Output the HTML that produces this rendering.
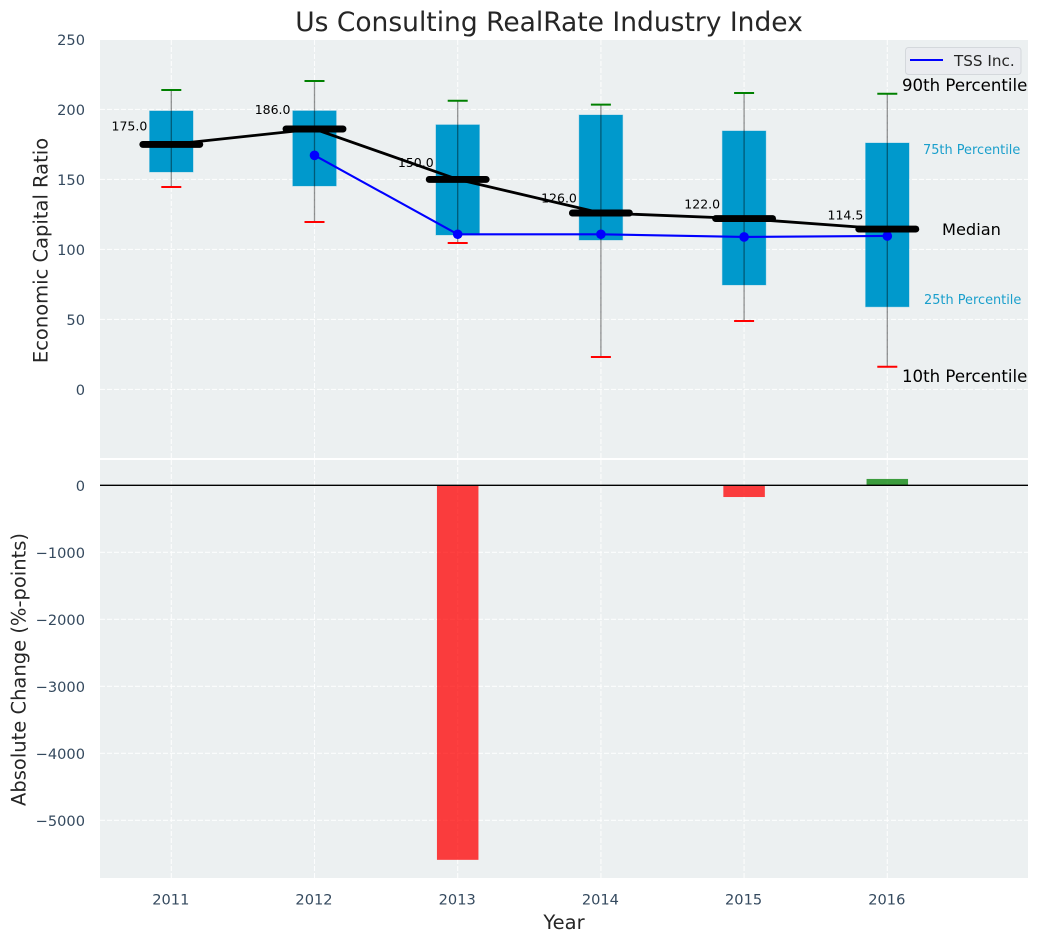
<!DOCTYPE html>
<html>
<head>
<meta charset="utf-8">
<title>Us Consulting RealRate Industry Index</title>
<style>
html,body{margin:0;padding:0;background:#fff;}
svg{display:block;}
text{font-family:"DejaVu Sans","Liberation Sans",sans-serif;}
</style>
</head>
<body>
<svg id="chart" xmlns="http://www.w3.org/2000/svg" width="1039" height="942" viewBox="0 0 1039 942">
  <g id="backgrounds"></g>
  <g id="grid"></g>
  <g id="marks"></g>
  <g id="labels"></g>
</svg>
<script>
const years = [2011, 2012, 2013, 2014, 2015, 2016];
const p90 = [213.9, 220.3, 206.2, 203.4, 211.7, 211.2];
const p75 = [198.9, 199, 189, 196, 184.6, 176];
const medians = [175, 186, 150, 126, 122, 114.5];
const p25 = [155.3, 145.3, 110.3, 106.7, 74.6, 59];
const p10 = [144.6, 119.6, 104.6, 23.1, 48.9, 16.2];
const tssYears = [2012, 2013, 2014, 2015, 2016];
const tssValues = [167.2, 110.8, 110.8, 108.9, 109.6];
const changes = [0, 0, -5590, 0, -175, 95];
const topTicks = [0, 50, 100, 150, 200, 250];
const bottomTicks = [0, -1000, -2000, -3000, -4000, -5000];

const NS = 'http://www.w3.org/2000/svg';
const PLOT_L = 100, PLOT_R = 1028;
const TOP_T = 40, TOP_B = 458, BOT_T = 460, BOT_B = 878;
const TICK_FONT = 14.6;
const AXIS_FONT = 19.5;
const xPos = v => 171.3 + 143.2 * (v - 2011);
const yTop = v => 389.4 - 1.4 * v;
const yBot = v => 485.3 - 0.067 * v;

function mk(parent, tag, attrs, txt) {
  const el = document.createElementNS(NS, tag);
  for (const k in attrs) el.setAttribute(k, attrs[k]);
  if (txt !== undefined) el.textContent = txt;
  parent.appendChild(el);
  return el;
}
const gBg = document.getElementById('backgrounds');
const gGrid = document.getElementById('grid');
const gMarks = document.getElementById('marks');
const gLabels = document.getElementById('labels');

/* panels */
let e = mk(gBg, 'rect', {x: PLOT_L, y: TOP_T, width: PLOT_R - PLOT_L, height: TOP_B - TOP_T, fill: '#ecf0f1'});


e = mk(gBg, 'rect', {x: PLOT_L, y: BOT_T, width: PLOT_R - PLOT_L, height: BOT_B - BOT_T, fill: '#ecf0f1'});



/* grid and ticks */
const gridStyle = {stroke: '#ffffff', 'stroke-width': 1.1, 'stroke-dasharray': '5 2', 'stroke-opacity': 0.85, fill: 'none'};
topTicks.forEach(t => {
  const y = yTop(t);
  if (y >= TOP_T) {
    const l = mk(gGrid, 'line', Object.assign({x1: PLOT_L, x2: PLOT_R, y1: y, y2: y}, gridStyle));
    
    
  }
  const lb = mk(gLabels, 'text', {x: 85, y: y + 5.6, 'text-anchor': 'end', 'font-size': TICK_FONT, fill: '#34495e'}, String(t));
  
  
});
bottomTicks.forEach(t => {
  const y = yBot(t);
  const l = mk(gGrid, 'line', Object.assign({x1: PLOT_L, x2: PLOT_R, y1: y, y2: y}, gridStyle));
  
  
  const lb = mk(gLabels, 'text', {x: 85, y: y + 5.6, 'text-anchor': 'end', 'font-size': TICK_FONT, fill: '#34495e'}, String(t).replace('-', '\u2212'));
  
  
});
years.forEach(yr => {
  const x = xPos(yr);
  let l = mk(gGrid, 'line', Object.assign({x1: x, x2: x, y1: TOP_T, y2: TOP_B}, gridStyle));
  
  
  l = mk(gGrid, 'line', Object.assign({x1: x, x2: x, y1: BOT_T, y2: BOT_B}, gridStyle));
  
  
  const lb = mk(gLabels, 'text', {x: x - 0.5, y: 904.5, 'text-anchor': 'middle', 'font-size': TICK_FONT, fill: '#34495e'}, String(yr));
  
  
});

/* boxes */
const BOX_W = 43.5, CAP_W = 20, MED_W = 57;
years.forEach((yr, i) => {
  const x = xPos(yr);
  const top = yTop(p75[i]), bot = yTop(p25[i]);
  const box = mk(gMarks, 'rect', {x: x - BOX_W / 2, y: top, width: BOX_W, height: bot - top, fill: '#0099cc', stroke: '#0099cc', 'stroke-opacity': 0.3, 'stroke-width': 1});
  
  
  const wh = mk(gMarks, 'line', {x1: x, x2: x, y1: yTop(p90[i]), y2: yTop(p10[i]), stroke: '#000', 'stroke-opacity': 0.42, 'stroke-width': 1.3});
  
  
  const hi = mk(gMarks, 'line', {x1: x - CAP_W / 2, x2: x + CAP_W / 2, y1: yTop(p90[i]), y2: yTop(p90[i]), stroke: '#008000', 'stroke-width': 2});
  
  
  const lo = mk(gMarks, 'line', {x1: x - CAP_W / 2, x2: x + CAP_W / 2, y1: yTop(p10[i]), y2: yTop(p10[i]), stroke: '#ff0000', 'stroke-width': 2});
  
  
});

/* TSS series */
const tssLine = mk(gMarks, 'polyline', {points: tssYears.map((yr, i) => xPos(yr) + ',' + yTop(tssValues[i])).join(' '), fill: 'none', stroke: '#0000ff', 'stroke-width': 2.1});


tssYears.forEach((yr, i) => {
  const d = mk(gMarks, 'circle', {cx: xPos(yr), cy: yTop(tssValues[i]), r: 4.8, fill: '#0000ff'});
  
  
});

/* median series */
const medLine = mk(gMarks, 'polyline', {points: years.map((yr, i) => xPos(yr) + ',' + yTop(medians[i])).join(' '), fill: 'none', stroke: '#000', 'stroke-width': 2.8});


years.forEach((yr, i) => {
  const x = xPos(yr), y = yTop(medians[i]);
  const m = mk(gMarks, 'line', {x1: x - MED_W / 2, x2: x + MED_W / 2, y1: y, y2: y, stroke: '#000', 'stroke-width': 6.9, 'stroke-linecap': 'round'});
  
  
  const t = mk(gLabels, 'text', {x: x - 24, y: yTop(medians[i] * 1.05) - 1.75, 'text-anchor': 'end', 'font-size': 12.5, fill: '#000'}, medians[i].toFixed(1));
  
  
});

/* change bars */
const BAR_W = 41.5;
years.forEach((yr, i) => {
  const v = changes[i];
  if (v === 0) return;
  const y0 = yBot(0), y1 = yBot(v);
  const b = mk(gMarks, 'rect', {x: xPos(yr) - BAR_W / 2, y: Math.min(y0, y1), width: BAR_W, height: Math.abs(y1 - y0), fill: v < 0 ? '#ff0000' : '#008000', 'fill-opacity': 0.75});
  
  
});
const zero = mk(gMarks, 'line', {x1: PLOT_L, x2: PLOT_R, y1: yBot(0), y2: yBot(0), stroke: '#000', 'stroke-width': 1.3});



/* titles */
let tt = mk(gLabels, 'text', {x: 549, y: 31, 'text-anchor': 'middle', 'font-size': 26.5, fill: '#262626'}, 'Us Consulting RealRate Industry Index');


tt = mk(gLabels, 'text', {x: 564, y: 929, 'text-anchor': 'middle', 'font-size': AXIS_FONT, fill: '#262626'}, 'Year');


tt = mk(gLabels, 'text', {transform: 'translate(47.5,250.5) rotate(-90)', 'text-anchor': 'middle', 'font-size': AXIS_FONT, fill: '#262626'}, 'Economic Capital Ratio');


tt = mk(gLabels, 'text', {transform: 'translate(25.5,669.5) rotate(-90)', 'text-anchor': 'middle', 'font-size': AXIS_FONT, fill: '#262626'}, 'Absolute Change (%-points)');



/* percentile annotations */
tt = mk(gLabels, 'text', {x: 902, y: 91, 'font-size': 16.6, fill: '#000'}, '90th Percentile');


tt = mk(gLabels, 'text', {x: 923, y: 154, 'font-size': 12.9, fill: '#1a9fcc'}, '75th Percentile');


tt = mk(gLabels, 'text', {x: 942, y: 235, 'font-size': 16.2, fill: '#000'}, 'Median');


tt = mk(gLabels, 'text', {x: 924, y: 304, 'font-size': 12.9, fill: '#1a9fcc'}, '25th Percentile');


tt = mk(gLabels, 'text', {x: 902, y: 382, 'font-size': 16.6, fill: '#000'}, '10th Percentile');



/* legend */
const lg = mk(gLabels, 'g', {});


const lgBox = mk(lg, 'rect', {x: 905.5, y: 47.5, width: 115.5, height: 27, rx: 3, fill: '#eaecf0', stroke: '#d4d8dc', 'stroke-width': 1});


const lgLine = mk(lg, 'line', {x1: 910, x2: 943, y1: 60, y2: 60, stroke: '#0000ff', 'stroke-width': 2.1});


const lgText = mk(lg, 'text', {x: 954, y: 66, 'font-size': 15.2, fill: '#262626'}, 'TSS Inc.');


</script>
</body>
</html>
